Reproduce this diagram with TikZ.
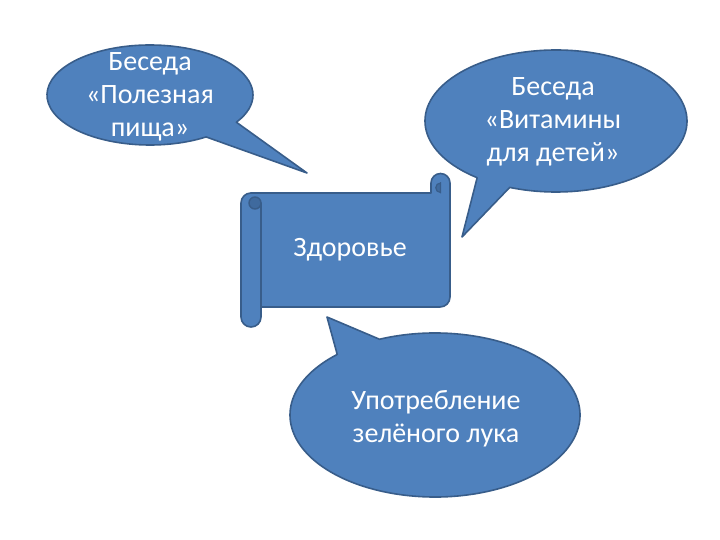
\documentclass[tikz,border=0pt]{standalone}
\usepackage{fontspec}
\setmainfont{Carlito}
\usetikzlibrary{calc}
\definecolor{shapefill}{HTML}{4F81BD}
\definecolor{shapeline}{HTML}{385D8A}
\definecolor{curlfill}{HTML}{3F6A9E}
\begin{document}
\begin{tikzpicture}[x=1pt,y=-1pt,
  shp/.style={fill=shapefill,draw=shapeline,line width=1.6pt,line join=round},
  shpfill/.style={fill=shapefill},
  shpline/.style={draw=shapeline,line width=1.6pt,line join=round,line cap=round},
  txt/.style={text=white,font=\fontsize{28}{33}\selectfont,align=center,inner sep=0pt}]
\useasboundingbox (0,0) rectangle (720,540);
\fill[white] (0,0) rectangle (720,540);

% callout 1
\coordinate (c1) at (150,95);
\coordinate (tip1) at (307,173);
\path[shp] ($(c1)+(57:103 and 50)$) arc[start angle=57,end angle=393,x radius=103,y radius=50] -- (tip1) -- cycle;
\node[txt] (t1) at (150,97) {Беседа\\«Полезная\\пища»};

% callout 2
\coordinate (c2) at (556,121);
\coordinate (tip2) at (462,237);
\path[shp] ($(c2)+(127:131 and 71)$) arc[start angle=127,end angle=470.7,x radius=131,y radius=71] -- (tip2) -- cycle;
\node[txt] (t2) at (553,122) {Беседа\\«Витамины\\для детей»};

% callout 3
\coordinate (c3) at (435,415);
\coordinate (tip3) at (327,317);
\path[shp] ($(c3)+(247.5:145 and 82)$) arc[start angle=247.5,end angle=587.6,x radius=145,y radius=82] -- (tip3) -- cycle;
\node[txt] (t3) at (436,419) {Употребление\\зелёного лука};

% scroll body
\path[shp] (251,193) -- (431,193) -- (431,183)
  arc[start angle=180,end angle=360,radius=9.5] -- (450,297)
  arc[start angle=0,end angle=90,radius=10] -- (251,307) -- cycle;
% top-right curl
\path[fill=curlfill,draw=shapeline,line width=1.2pt] (440.5,183) arc[start angle=270,end angle=90,radius=4.75] -- cycle;
\draw[shpline] (440.5,192.5) -- (440.5,183);
% left roll
\path[shpfill] (261,193) -- (261,317) arc[start angle=0,end angle=180,radius=10]
  -- (241,203) arc[start angle=180,end angle=270,radius=10] -- cycle;
\draw[shpline] (261,203) -- (261,317) arc[start angle=0,end angle=180,radius=10]
  -- (241,203) arc[start angle=180,end angle=270,radius=10] -- (262,193);
\path[fill=curlfill,draw=shapeline,line width=1.4pt] (255,203) circle[radius=6];
\node[txt] (t0) at (350,250) {Здоровье};
\end{tikzpicture}
\end{document}
